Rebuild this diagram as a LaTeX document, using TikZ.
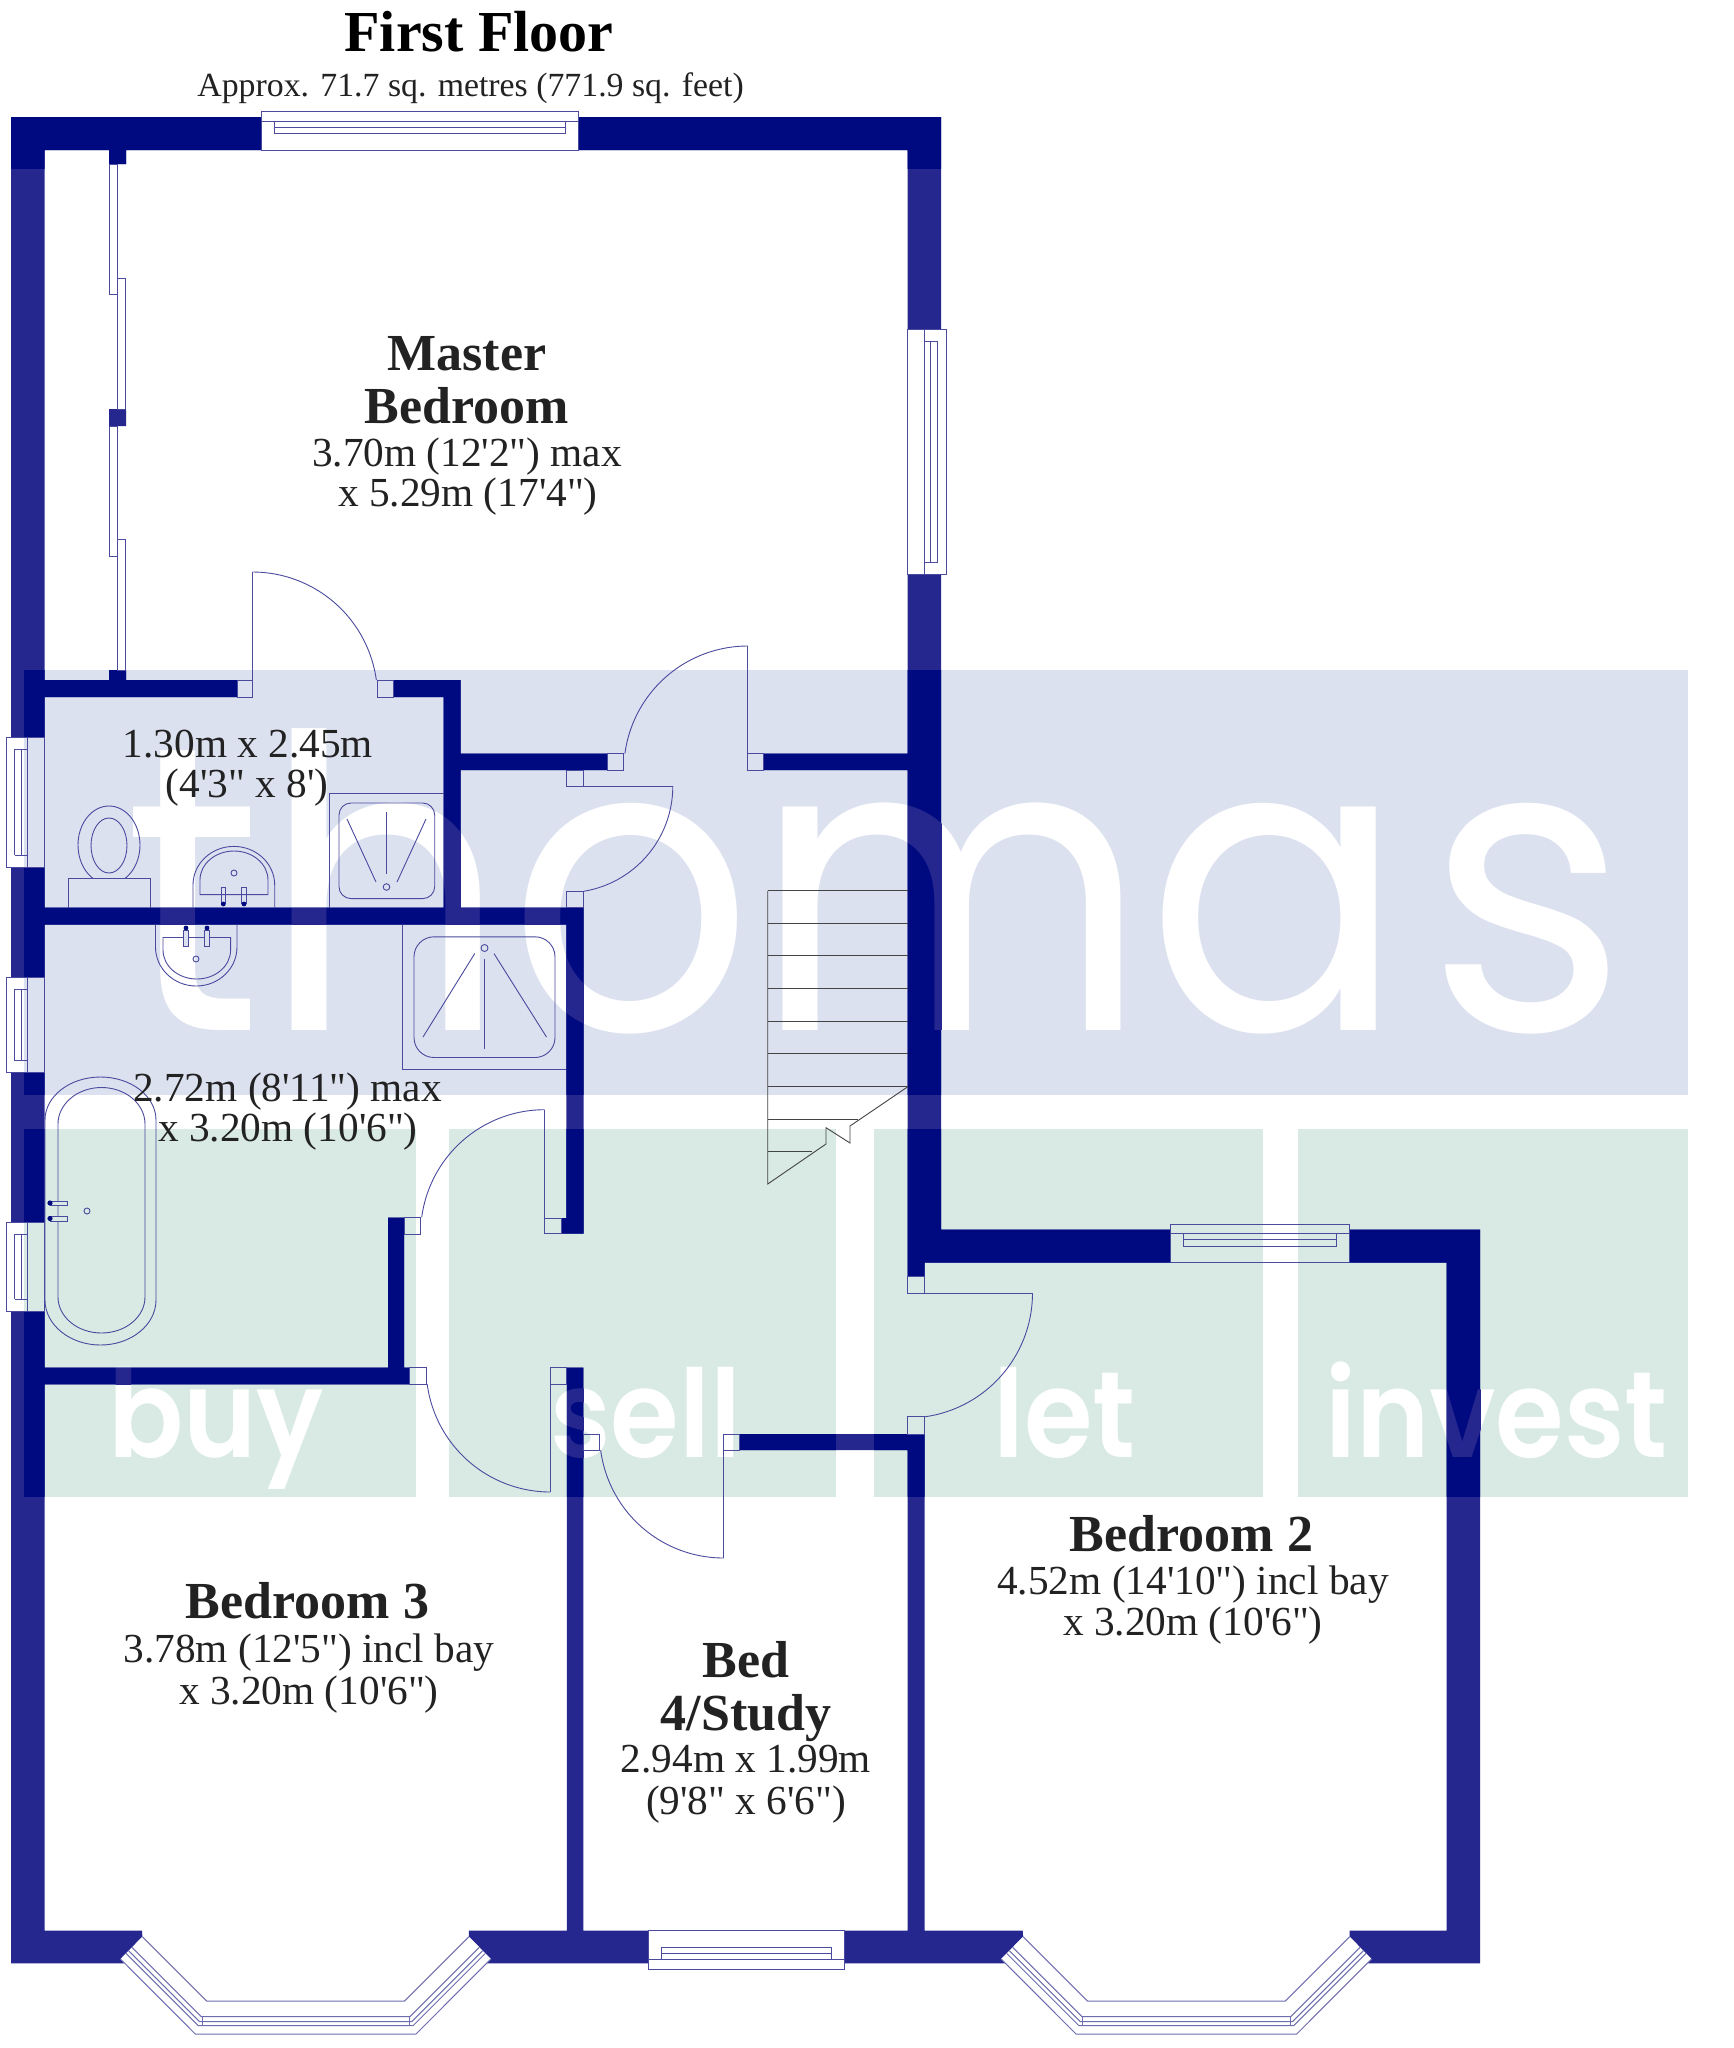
\documentclass[tikz,border=0pt]{standalone}
\usepackage{fontspec}
\newfontfamily\plainserif{Liberation Serif}
\newfontfamily\wmfont{Poppins}
\newfontfamily\wmfontb{Poppins SemiBold}
\definecolor{walllight}{HTML}{26268F}
\definecolor{walldark}{HTML}{000A80}
\definecolor{tintblue}{HTML}{DCE1F0}
\definecolor{tintgreen}{HTML}{D8EAE3}
\definecolor{linecol}{HTML}{4A4A9E}
\definecolor{baycol}{HTML}{6E6EAE}
\definecolor{stepcol}{HTML}{444444}
\definecolor{txtcol}{HTML}{222222}
\tikzset{
  wline/.style={draw=linecol,line width=0.9pt},
  bayline/.style={draw=baycol,line width=1pt},
  stairline/.style={draw=stepcol,line width=0.9pt},
  roomname/.style={font=\plainserif\bfseries\fontsize{52}{52}\selectfont,text=txtcol,inner sep=0pt,anchor=base},
  roomdim/.style={font=\plainserif\fontsize{41.3}{42}\selectfont,text=txtcol,inner sep=0pt,anchor=base},
  wmbig/.style={font=\wmfont\fontsize{408}{408}\selectfont,inner sep=0pt,anchor=base west,xscale=0.94,transform shape},
  wmsmall/.style={font=\wmfontb\fontsize{122}{122}\selectfont,inner sep=0pt,anchor=base west,xscale=0.91,transform shape},
}
% wall outline: every piece runs the same way round as a rectangle does
\def\wallshape{
  (11,117) rectangle (261,150)
  (578,117) rectangle (941,150)
  (11,117) rectangle (44.6,737)
  (11,867) rectangle (44.6,977)
  (11,1072.5) rectangle (44.6,1222)
  (11,1311) rectangle (44.6,1963.3)
  (907.5,117) rectangle (941,329)
  (907.5,574) rectangle (941,1262.7)
  (941,1229.5) rectangle (1170,1262.7)
  (1349.5,1229.5) rectangle (1480,1262.7)
  (1446.7,1229.5) rectangle (1480,1963.3)
  (109,150) rectangle (126,164)
  (109,409) rectangle (126,426)
  (109,670) rectangle (126,680)
  (44.6,680) rectangle (237,697)
  (393,680) rectangle (460.5,697)
  (443.5,697) rectangle (460.5,907.5)
  (460.5,753.6) rectangle (607.7,770)
  (763.8,753.6) rectangle (907.5,770)
  (44.6,907.5) rectangle (583.6,924.6)
  (566.4,924.6) rectangle (583.6,1218)
  (561,1218) rectangle (583.6,1233.7)
  (388,1217.7) rectangle (404,1367.7)
  (44.6,1367.7) rectangle (409.4,1384.3)
  (566.8,1367.7) rectangle (583.4,1930.7)
  (739.6,1434) rectangle (907.5,1450)
  (907.5,1262.7) rectangle (924.6,1276.7)
  (907.5,1434) rectangle (924.6,1930.7)
  (11,1930.7) -- (11,1963.3) -- (124.5,1963.3) -- (120.5,1959) -- (142.4,1936.7) -- (142,1930.7) -- cycle
  (468.9,1930.7) -- (468.9,1936.7) -- (490.8,1959) -- (486.8,1963.3) -- (648.7,1963.3) -- (648.7,1930.7) -- cycle
  (844,1930.7) -- (844,1963.3) -- (1005.2,1963.3) -- (1001.2,1959) -- (1023.1,1936.7) -- (1022.7,1930.7) -- cycle
  (1349.6,1930.7) -- (1349.6,1936.7) -- (1371.5,1959) -- (1367.5,1963.3) -- (1480,1963.3) -- (1480,1930.7) -- cycle
}
% swing of a door: centre x, centre y, radius, leaf end x, leaf end y, first and last angle
\newcommand{\doorswing}[7]{%
  \draw[wline] (#1,#2) -- (#4,#5);
  \draw[wline,domain=#6:#7,samples=50,variable=\t] plot ({#1+#3*cos(\t)},{#2+#3*sin(\t)});
}
\newcommand{\jambbox}[4]{\draw[wline] (#1,#2) rectangle (#3,#4);}
% window set in a side wall: x of inner face, sign towards outside, top, bottom
\newcommand{\sidewin}[4]{%
  \draw[wline] ({#1},#3) rectangle ({#1+#2*38.5},#4);
  \draw[wline] ({#1+#2*17},#3) -- ({#1+#2*17},#4);
  \draw[wline] ({#1+#2*23},{#3+12}) -- ({#1+#2*23},{#4-12});
  \draw[wline] ({#1+#2*30},{#3+12}) -- ({#1+#2*30},{#4-12});
  \draw[wline] ({#1+#2*17},{#3+12}) -- ({#1+#2*30},{#3+12});
  \draw[wline] ({#1+#2*17},{#4-12}) -- ({#1+#2*30},{#4-12});
}
% window set in a horizontal wall: y of inner face, sign towards outside, left, right
\newcommand{\flatwin}[4]{%
  \draw[wline] (#3,{#1}) rectangle (#4,{#1+#2*38.5});
  \draw[wline] (#3,{#1+#2*29}) -- (#4,{#1+#2*29});
  \draw[wline] ({#3+13},{#1+#2*23}) -- ({#4-13},{#1+#2*23});
  \draw[wline] ({#3+13},{#1+#2*16.5}) -- ({#4-13},{#1+#2*16.5});
  \draw[wline] ({#3+13},{#1+#2*16.5}) -- ({#3+13},{#1+#2*29});
  \draw[wline] ({#4-13},{#1+#2*16.5}) -- ({#4-13},{#1+#2*29});
}
% bay window, drawn for the left bay and shifted for the right one
\newcommand{\baywin}[1]{%
  \begin{scope}[xshift=#1pt]
    \fill[white] (142.4,1936.7) -- (206.7,2001) -- (404.6,2001) -- (468.9,1936.7) -- (490.8,1959) -- (416,2034) -- (195.3,2034) -- (120.5,1959) -- cycle;
    \draw[bayline] (142.4,1936.7) -- (206.7,2001) -- (404.6,2001) -- (468.9,1936.7);
    \draw[bayline] (120.5,1959) -- (195.3,2034) -- (416,2034) -- (490.8,1959);
    \draw[bayline] (132,1947.3) -- (201.4,2016.7) -- (409.9,2016.7) -- (479.3,1947.3);
    \draw[bayline] (128.6,1950.7) -- (199.6,2021.7) -- (411.7,2021.7) -- (482.7,1950.7);
    \draw[bayline] (126,1953.4) -- (198.3,2025.7) -- (413,2025.7) -- (485.3,1953.4);
    \draw[bayline] (202,2016.7) -- (202,2025.7);
    \draw[bayline] (409.3,2016.7) -- (409.3,2025.7);
  \end{scope}
}
\begin{document}
\begin{tikzpicture}[x=1pt,y=-1pt]
\useasboundingbox (0,0) rectangle (1734,2048);
\fill[white] (0,0) rectangle (1734,2048);
% watermark panels and lettering, kept inside the panels
\fill[tintblue] (24,670) rectangle (1688,1095);
\fill[tintgreen] (24,1129) rectangle (415.5,1497);
\fill[tintgreen] (449,1129) rectangle (836,1497);
\fill[tintgreen] (873.6,1129) rectangle (1263,1497);
\fill[tintgreen] (1298,1129) rectangle (1688,1497);
\newcommand{\wmtext}[1]{%
  \node[wmbig,text=#1] (wmthomas) at (123,1030) {tho\kern0pt m\kern-3pt a\kern24pt s};
  \node[wmsmall,text=#1] (wmbuy) at (108,1457) {buy};
  \node[wmsmall,text=#1] (wmsell) at (550,1457) {sell};
  \node[wmsmall,text=#1] (wmlet) at (993,1457) {let};
  \node[wmsmall,text=#1] (wminvest) at (1325,1457) {invest};
}
\begin{scope}
  \clip (24,670) rectangle (1688,1497);
  \wmtext{white}
\end{scope}
% walls
\fill[walllight] \wallshape;
\begin{scope}
  \clip \wallshape;
  \fill[walldark] (0,100) rectangle (1734,169);
  \fill[walldark] (24,670) rectangle (1688,1095);
  \fill[walldark] (24,1129) rectangle (415.5,1497);
  \fill[walldark] (449,1129) rectangle (836,1497);
  \fill[walldark] (873.6,1129) rectangle (1263,1497);
  \fill[walldark] (1298,1129) rectangle (1688,1497);
  \wmtext{walllight}
\end{scope}
% windows
\flatwin{150}{-1}{261}{578}
\flatwin{1262.5}{-1}{1170}{1349.5}
\flatwin{1930.7}{1}{648.7}{844}
\sidewin{907.5}{1}{329}{574}
\sidewin{44.6}{-1}{737}{867}
\sidewin{44.6}{-1}{977}{1072.5}
\sidewin{44.6}{-1}{1222}{1311}
\baywin{0}
\baywin{880.7}
% wardrobe panels
\draw[wline] (109,164) rectangle (117,294);
\draw[wline] (117,278) rectangle (125,409);
\draw[wline] (109,426) rectangle (117,556);
\draw[wline] (117,539.5) rectangle (125,670);
% door jambs
\jambbox{237}{680}{252.5}{697}
\jambbox{377}{680}{393}{697}
\jambbox{607.7}{753.6}{623.8}{770}
\jambbox{747.8}{753.6}{763.8}{770}
\jambbox{566.4}{770}{583.6}{786.5}
\jambbox{566.4}{891}{583.6}{907.5}
\jambbox{544.6}{1218}{561}{1233.7}
\jambbox{404}{1217.7}{420.4}{1234}
\jambbox{409.4}{1367.7}{426.5}{1384.3}
\jambbox{550.4}{1367.7}{566.8}{1384}
\jambbox{583.4}{1434}{599.6}{1450}
\jambbox{723.6}{1434}{739.6}{1450}
\jambbox{907.5}{1276.7}{924.6}{1293}
\jambbox{907.5}{1416.7}{924.6}{1434}
% door leaves and swings
\doorswing{252.5}{697}{125}{252.5}{572}{-90}{-7.8}
\doorswing{747.8}{770}{124}{747.8}{646}{-172.4}{-90}
\doorswing{566.4}{786.3}{106.4}{672.8}{786.3}{0}{80.7}
\doorswing{544.6}{1233.7}{124}{544.6}{1109.7}{-172.4}{-90}
\doorswing{550.4}{1367.7}{124.3}{550.4}{1492}{90}{172.5}
\doorswing{723.6}{1434}{124}{723.6}{1558}{90}{172.5}
\doorswing{907.5}{1293}{125}{1032.5}{1293}{0}{82.2}
% stairs
\foreach \yy in {890.9,923.3,955.7,988.5,1021.3,1053.8,1086.6} \draw[stairline] (767.7,\yy) -- (908,\yy);
\draw[stairline] (767.7,1119) -- (858,1119);
\draw[stairline] (767.7,1151.8) -- (812.4,1151.8);
\draw[stairline] (767.7,890.9) -- (767.7,1184) -- (826,1144) -- (826,1127.7) -- (850,1143) -- (850,1126) -- (908,1086.6);
% en-suite shower
\draw[wline] (329,907.5) -- (329,793.6) -- (444,793.6);
\draw[wline,rounded corners=12pt] (339,803) rectangle (434.7,898.6);
\draw[wline] (386.5,812) -- (386.5,874);
\draw[wline] (386.5,887) circle (3.3pt);
\draw[wline] (347,819) -- (376,882);
\draw[wline] (426,819) -- (397,882);
% toilet
\begin{scope}
  \clip (60,800) rectangle (160,878);
  \draw[wline] (109,845) ellipse (31pt and 39pt);
\end{scope}
\draw[wline] (109,845.5) ellipse (18pt and 27.5pt);
\draw[wline] (68.6,907.5) -- (68.6,878) -- (150,878) -- (150,907.5);
% en-suite basin
\draw[wline] (193,907.5) -- (193,885) arc[start angle=180,end angle=360,x radius=40.85pt,y radius=-38.6pt] -- (274.7,907.5);
\draw[wline] (200,894.6) -- (200,880) arc[start angle=180,end angle=360,x radius=34pt,y radius=-29pt] -- (268,894.6) -- cycle;
\draw[wline] (234,873) circle (3pt);
\draw[wline] (221,887) rectangle (225.7,903);
\draw[wline] (241.5,887) rectangle (246.5,903);
\fill[walldark] (223.3,904) circle (2.4pt);
\fill[walldark] (244,904) circle (2.4pt);
% bathroom basin
\draw[wline] (155.5,924.6) -- (155.5,947) arc[start angle=180,end angle=360,x radius=40.75pt,y radius=39pt] -- (237,924.6);
\draw[wline] (163,937.5) -- (163,950) arc[start angle=180,end angle=360,x radius=33.8pt,y radius=29pt] -- (230.6,937.5) -- cycle;
\draw[wline] (196,959) circle (3pt);
\draw[wline,fill=tintblue] (183.5,930) rectangle (188.5,946.4);
\draw[wline,fill=tintblue] (204.5,930) rectangle (209.5,946.4);
\fill[walldark] (186,928) circle (2.4pt);
\fill[walldark] (207,928) circle (2.4pt);
% bathroom shower
\draw[wline] (402.4,924.6) -- (402.4,1069.6) -- (566.4,1069.6);
\draw[wline,rounded corners=20pt] (414,936.8) rectangle (555,1057.5);
\draw[wline] (484.5,948) circle (3.5pt);
\draw[wline] (484.5,959) -- (484.5,1049);
\draw[wline] (474.7,953.6) -- (423,1037);
\draw[wline] (494,953.6) -- (546.5,1037);
% bath
\draw[wline] (45,1120) arc[start angle=180,end angle=360,x radius=55.5pt,y radius=-43pt] -- (156,1300) arc[start angle=0,end angle=180,x radius=55.5pt,y radius=-45pt] -- cycle;
\draw[wline] (58,1124) arc[start angle=180,end angle=360,x radius=43.5pt,y radius=-36.5pt] -- (145,1297) arc[start angle=0,end angle=180,x radius=43.5pt,y radius=-36pt] -- cycle;
\draw[wline,fill=tintgreen] (50,1201) rectangle (67,1205);
\draw[wline,fill=tintgreen] (50,1216) rectangle (67,1221);
\fill[walldark] (50,1203) circle (2.6pt);
\fill[walldark] (50,1218.5) circle (2.6pt);
\draw[wline] (87,1211) circle (3pt);
% texts
\node[font=\plainserif\bfseries\fontsize{58}{58}\selectfont,text=black,inner sep=0pt,anchor=base] (title) at (479,51.4) {First Floor};
\node[font=\plainserif\fontsize{33.8}{34}\selectfont,text=txtcol,inner sep=0pt,anchor=base] (area) at (470.6,96.4) {Approx. 71.7 sq. metres (771.9 sq. feet)};
\node[roomname] (mastera) at (467,370.6) {Master};
\node[roomname] (masterb) at (467,423) {Bedroom};
\node[roomdim] (masterc) at (467,466) {3.70m (12'2") max};
\node[roomdim] (masterd) at (468,506.4) {x 5.29m (17'4")};
\node[roomdim] (ensa) at (248,757) {1.30m x 2.45m};
\node[roomdim] (ensb) at (247,797.5) {(4'3" x 8')};
\node[roomdim] (batha) at (287.5,1101) {2.72m (8'11") max};
\node[roomdim] (bathb) at (288,1141) {x 3.20m (10'6")};
\node[roomname] (bedthree) at (307.5,1618) {Bedroom 3};
\node[roomdim] (bedthreea) at (309,1662) {3.78m (12'5") incl bay};
\node[roomdim] (bedthreeb) at (309,1704) {x 3.20m (10'6")};
\node[roomname] (bedtwo) at (1191.5,1551) {Bedroom 2};
\node[roomdim] (bedtwoa) at (1193,1594) {4.52m (14'10") incl bay};
\node[roomdim] (bedtwob) at (1193,1635) {x 3.20m (10'6")};
\node[roomname] (bedfoura) at (746,1677) {Bed};
\node[roomname] (bedfourb) at (746,1730) {4/Study};
\node[roomdim] (bedfourc) at (746,1772.5) {2.94m x 1.99m};
\node[roomdim] (bedfourd) at (746,1814.5) {(9'8" x 6'6")};
\end{tikzpicture}
\end{document}
